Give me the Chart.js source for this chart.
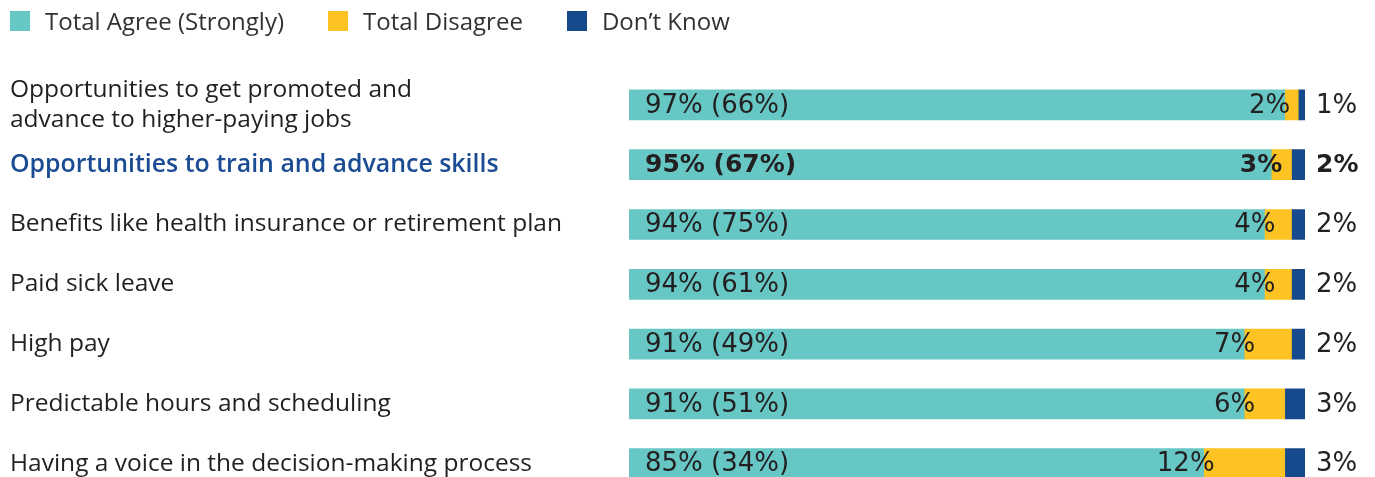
<!DOCTYPE html>
<html lang="en">
<head>
    <meta charset="UTF-8">
    <title>Job Qualities</title>
    <script src="https://cdn.jsdelivr.net/npm/chart.js"></script>
    <style>
        html, body {
            margin: 0;
            padding: 0;
            background: #fff;
            overflow: hidden;
        }
        #wrap {
            position: relative;
            width: 1375px;
            height: 523px;
        }
        #legend {
            position: absolute;
            top: 4px;
            left: 10px;
            display: flex;
            align-items: center;
            font-family: "Open Sans", sans-serif;
            font-size: 24px;
            color: #333132;
        }
        #legend .item {
            display: flex;
            align-items: center;
            margin-right: 44px;
        }
        #legend .box {
            width: 20px;
            height: 20px;
            margin-right: 15px;
        }
    </style>
</head>
<body>
    <div id="wrap">
        <div id="legend"></div>
        <canvas id="barChart" width="1375" height="523"></canvas>
    </div>

    <script>
        // chart data
        const categories = [
            ['Opportunities to get promoted and', 'advance to higher-paying jobs'],
            'Opportunities to train and advance skills',
            'Benefits like health insurance or retirement plan',
            'Paid sick leave',
            'High pay',
            'Predictable hours and scheduling',
            'Having a voice in the decision-making process'
        ];
        const agree = [97, 95, 94, 94, 91, 91, 85];
        const agreeStrongly = [66, 67, 75, 61, 49, 51, 34];
        const disagree = [2, 3, 4, 4, 7, 6, 12];
        const dontKnow = [1, 2, 2, 2, 2, 3, 3];
        const seriesNames = ['Total Agree (Strongly)', 'Total Disagree', "Don\u2019t Know"];
        const highlightRow = 1;

        const colors = ['#67c7c5', '#fdc323', '#174a8c'];
        const textColor = '#231f20';

        // html legend
        const legendEl = document.getElementById('legend');
        seriesNames.forEach(function(name, i) {
            const item = document.createElement('div');
            item.className = 'item';
            item.innerHTML = '<span class="box" style="background:' + colors[i] + '"></span><span>' + name + '</span>';
            legendEl.appendChild(item);
        });

        // draws the value labels on top of the bars
        const valueLabels = {
            id: 'valueLabels',
            afterDatasetsDraw(chart) {
                const ctx = chart.ctx;
                const agreeBars = chart.getDatasetMeta(0).data;
                const disBars = chart.getDatasetMeta(1).data;
                const dkBars = chart.getDatasetMeta(2).data;
                ctx.save();
                ctx.fillStyle = textColor;
                ctx.textBaseline = 'middle';
                for (let i = 0; i < categories.length; i++) {
                    const bold = i === highlightRow;
                    ctx.font = bold ? 'bold 25px "DejaVu Sans"' : '26px "DejaVu Sans"';
                    const a = agreeBars[i];
                    const d = disBars[i];
                    const k = dkBars[i];
                    const y = a.y + 1;

                    ctx.textAlign = 'left';
                    ctx.fillText(agree[i] + '% (' + agreeStrongly[i] + '%)', a.base + 16, y);

                    ctx.textAlign = 'right';
                    const right = Math.min(a.x + 11, d.x - 8);
                    ctx.fillText(disagree[i] + '%', right, y);

                    ctx.textAlign = 'left';
                    ctx.fillText(dontKnow[i] + '%', k.x + 11, y);
                }
                ctx.restore();
            }
        };

        const ctx = document.getElementById('barChart').getContext('2d');
        const chart = new Chart(ctx, {
            type: 'bar',
            data: {
                labels: categories,
                datasets: [
                    { label: seriesNames[0], data: agree, backgroundColor: colors[0] },
                    { label: seriesNames[1], data: disagree, backgroundColor: colors[1] },
                    { label: seriesNames[2], data: dontKnow, backgroundColor: colors[2] }
                ]
            },
            options: {
                indexAxis: 'y',
                responsive: false,
                animation: false,
                barThickness: 30,
                layout: {
                    padding: { top: 75, bottom: 0, left: 10, right: 70 }
                },
                plugins: {
                    legend: { display: false },
                    tooltip: { enabled: false }
                },
                scales: {
                    x: {
                        stacked: true,
                        display: false,
                        min: 0,
                        max: 100
                    },
                    y: {
                        stacked: true,
                        grid: { display: false },
                        border: { display: false },
                        ticks: {
                            crossAlign: 'far',
                            padding: 0,
                            color: function(c) {
                                return c.index === highlightRow ? '#1b4c93' : textColor;
                            },
                            font: function(c) {
                                return {
                                    family: '"Open Sans", sans-serif',
                                    size: c.index === highlightRow ? 24.9 : 24.5,
                                    weight: c.index === highlightRow ? '600' : 'normal',
                                    lineHeight: 1.2
                                };
                            }
                        },
                        afterFit: function(scale) {
                            scale.width = 619;
                        }
                    }
                }
            },
            plugins: [valueLabels]
        });
    </script>
</body>
</html>
